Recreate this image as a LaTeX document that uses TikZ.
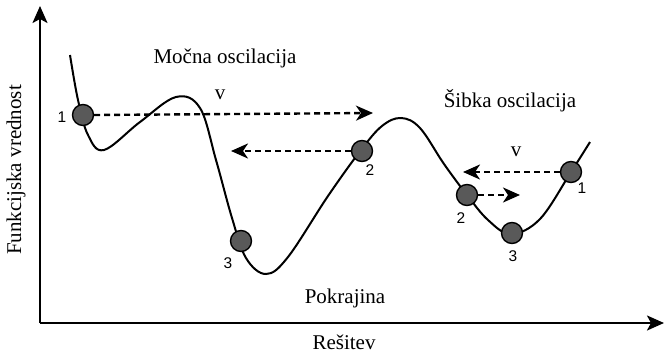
\documentclass[tikz,border=0pt]{standalone}
\usepackage{fontspec}
\setmainfont{Liberation Serif}
\newfontfamily\numfont{Liberation Sans}
\usetikzlibrary{arrows.meta}
\begin{document}
\begin{tikzpicture}[x=1pt,y=-1pt,
  axis/.style={line width=2.3pt,-{Stealth[length=17pt,width=15pt,inset=4pt]}},
  curve/.style={line width=2pt},
  ball/.style={circle,draw=black,line width=1.4pt,fill=black!65,minimum size=21pt,inner sep=0pt},
  move/.style={line width=2.4pt,dash pattern=on 6pt off 4pt,-{Stealth[length=17pt,width=15pt,inset=5pt]}},
  txt/.style={font=\fontsize{21}{24}\selectfont,inner sep=0pt},
  num/.style={font=\numfont\fontsize{15.5}{17}\selectfont,inner sep=0pt}]
\useasboundingbox (0,0) rectangle (665,354);
% axes
\coordinate (o) at (40,323);
\coordinate (ytop) at (40,6);
\coordinate (xend) at (664,323);
\draw[axis] (o) -- (ytop);
\draw[axis] (o) -- (xend);
\node[txt,rotate=90] (ylab) at (16,170) {Funkcijska vrednost};
\node[txt] (xlab) at (344,342) {Rešitev};
% landscape
\draw[curve] plot[smooth,tension=0.6] coordinates {
  (70,55) (78,100) (88,135) (104,150) (140,122) (176,97) (200,108)
  (216,160) (232,218) (246,258) (266,274) (288,257) (328,196) (361,150)
  (382,126) (401,118) (420,128) (444,164) (467,195) (488,220) (511,234)
  (540,219) (571,172) (590,142)};
% balls
\node[ball] (b1) at (83,115) {};
\node[ball] (b2) at (362,151) {};
\node[ball] (b3) at (241,241) {};
\node[ball] (c1) at (571,172) {};
\node[ball] (c2) at (467,195) {};
\node[ball] (c3) at (512,233) {};
\node[num] (n1) at (62,117) {1};
\node[num] (n2) at (370,170) {2};
\node[num] (n3) at (228,263) {3};
\node[num] (m1) at (582,188) {1};
\node[num] (m2) at (461,218) {2};
\node[num] (m3) at (513,256) {3};
% moves
\coordinate (e1) at (373,113);
\coordinate (e2) at (231,151);
\coordinate (e3) at (463,172);
\coordinate (e4) at (520,195);
\draw[move] (b1.east) -- (e1);
\draw[move] (b2.west) -- (e2);
\draw[move] (c1.west) -- (e3);
\draw[move] (c2.east) -- (e4);
% labels
\node[txt] (strong) at (225,58) {Močna oscilacija};
\node[txt] (weak) at (510,101) {Šibka oscilacija};
\node[txt] (v1) at (220,95) {v};
\node[txt] (v2) at (516,152) {v};
\node[txt] (land) at (345,298) {Pokrajina};
\end{tikzpicture}
\end{document}
